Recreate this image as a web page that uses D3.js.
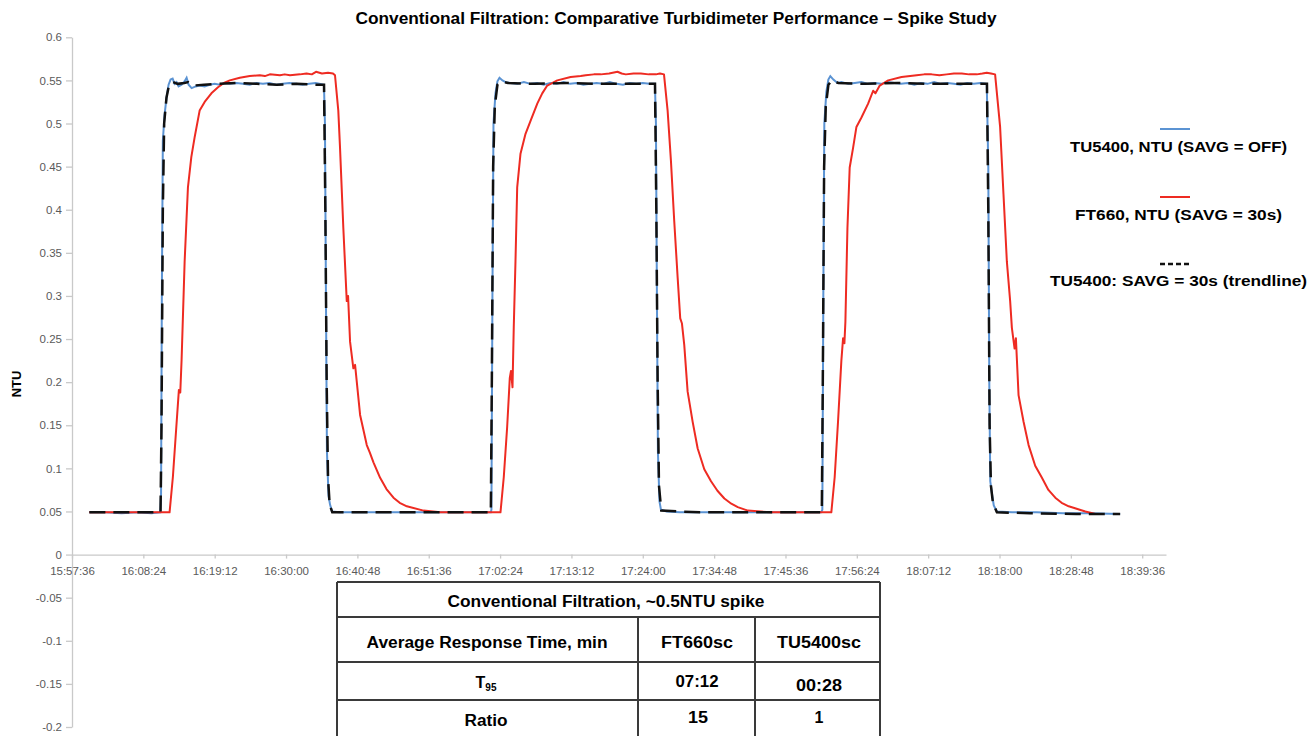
<!DOCTYPE html>
<html><head><meta charset="utf-8">
<script src="https://cdn.jsdelivr.net/npm/d3@7"></script>
<style>body{margin:0;background:#fff;} svg{display:block;font-family:"Liberation Sans",Arial,sans-serif;}</style>
</head><body><svg id="c" width="1316" height="736"></svg>
<script>
// ---------- DATA ----------
const startTime = "15:57:36";
const axisEndTime = "18:43:12";
const xTickLabels = ["15:57:36","16:08:24","16:19:12","16:30:00","16:40:48","16:51:36","17:02:24","17:13:12",
  "17:24:00","17:34:48","17:45:36","17:56:24","18:07:12","18:18:00","18:28:48","18:39:36"];
const yTickValues = [-0.2,-0.15,-0.1,-0.05,0,0.05,0.1,0.15,0.2,0.25,0.3,0.35,0.4,0.45,0.5,0.55,0.6];
const yTickLabels = ["-0.2","-0.15","-0.1","-0.05","0","0.05","0.1","0.15","0.2","0.25","0.3","0.35","0.4","0.45","0.5","0.55","0.6"];
const seriesNames = ["TU5400, NTU (SAVG = OFF)","FT660, NTU (SAVG = 30s)","TU5400: SAVG = 30s (trendline)"];

// [minutes after 15:57:36, NTU]
const tu5400Raw = [
 [2.63,0.049],[5.0,0.049],[7.5,0.048],[10.0,0.049],[12.0,0.048],[13.37,0.049],[13.48,0.07],[13.60,0.30],[13.75,0.48],
 [14.01,0.51],[14.31,0.53],[14.62,0.545],[14.92,0.551],[15.23,0.552],[15.53,0.546],[15.83,0.548],[16.13,0.543],
 [16.59,0.545],[17.05,0.549],[17.35,0.553],[17.65,0.545],[18.11,0.541],[18.72,0.543],[19.32,0.544],[20.08,0.543],
 [20.84,0.545],[21.60,0.546],[22.36,0.545],[23.12,0.547],[23.88,0.546],[24.9,0.547],[25.9,0.546],[26.9,0.545],
 [27.9,0.547],[28.9,0.546],[29.9,0.547],[30.9,0.545],[31.9,0.546],[32.9,0.547],[33.9,0.546],[34.9,0.545],[35.9,0.546],
 [36.9,0.547],[37.6,0.546],[38.14,0.545],[38.29,0.50],[38.44,0.30],[38.59,0.12],[38.83,0.068],[39.06,0.058],
 [39.36,0.050],[40.5,0.049],[43,0.049],[46,0.049],[50,0.049],[54,0.049],[58,0.049],[61,0.049],[63.4,0.049],
 [63.49,0.052],[63.64,0.30],[63.80,0.50],[64.10,0.535],[64.40,0.549],[64.71,0.553],[65.16,0.550],[65.62,0.548],
 [66.37,0.547],[67.4,0.546],[68.4,0.548],[69.4,0.546],[70.4,0.547],[71.4,0.545],[72.4,0.547],[73.4,0.546],[74.4,0.548],
 [75.4,0.546],[76.4,0.547],[77.4,0.545],[78.4,0.546],[79.4,0.547],[80.4,0.546],[81.4,0.548],[82.4,0.546],[83.4,0.545],
 [84.4,0.547],[85.4,0.546],[86.4,0.547],[87.4,0.546],[88.24,0.546],[88.39,0.50],[88.54,0.30],[88.69,0.12],[88.92,0.062],
 [89.15,0.052],[90.0,0.050],[92,0.049],[96,0.049],[100,0.049],[104,0.049],[108,0.049],[112,0.049],[113.4,0.049],
 [113.58,0.052],[113.73,0.30],[113.88,0.50],[114.19,0.537],[114.49,0.551],[114.79,0.555],[115.25,0.551],[115.86,0.547],
 [116.46,0.548],[117.5,0.546],[118.5,0.547],[119.5,0.548],[120.5,0.546],[121.5,0.547],[122.5,0.546],[123.5,0.548],
 [124.5,0.547],[125.5,0.546],[126.5,0.547],[127.5,0.545],[128.5,0.547],[129.5,0.546],[130.5,0.548],[131.5,0.546],
 [132.5,0.547],[133.5,0.546],[134.5,0.545],[135.5,0.547],[136.5,0.546],[137.5,0.547],[138.47,0.546],[138.70,0.45],
 [138.85,0.20],[139.00,0.085],[139.23,0.072],[139.53,0.057],[139.99,0.050],[142.3,0.049],[146,0.049],[150,0.048],
 [154,0.048],[158.66,0.047]
];
const ft660 = [
 [2.63,0.049],[6,0.049],[10,0.049],[13.5,0.049],[14.77,0.049],[15.27,0.09],[15.79,0.148],[16.18,0.191],[16.39,0.188],
 [16.59,0.226],[17.05,0.34],[17.55,0.426],[18.06,0.461],[18.56,0.484],[19.32,0.515],[20.08,0.525],[21.10,0.535],
 [22.10,0.542],[23.0,0.547],[23.88,0.550],[25.4,0.553],[26.91,0.555],[28.43,0.556],[29.2,0.555],[29.95,0.557],
 [31.47,0.556],[32.2,0.557],[32.99,0.556],[34.50,0.557],[35.5,0.558],[36.3,0.557],[36.93,0.560],[37.84,0.558],
 [38.75,0.559],[39.51,0.558],[39.81,0.556],[40.31,0.515],[40.57,0.472],[41.07,0.379],[41.59,0.294],[41.79,0.30],
 [42.09,0.247],[42.59,0.216],[42.85,0.22],[43.61,0.162],[44.62,0.127],[45.1,0.118],[45.63,0.107],[46.64,0.089],
 [47.6,0.076],[48.66,0.066],[49.6,0.060],[50.69,0.056],[53.21,0.051],[55.75,0.049],[59,0.049],[62,0.049],[64.86,0.049],
 [65.36,0.09],[65.87,0.148],[66.27,0.205],[66.45,0.213],[66.68,0.194],[66.87,0.264],[67.13,0.34],[67.39,0.426],
 [67.89,0.465],[68.65,0.488],[69.41,0.503],[70.43,0.523],[71.18,0.535],[71.94,0.544],[73.46,0.550],[75.48,0.554],
 [77.0,0.555],[77.76,0.556],[79.0,0.557],[80.04,0.557],[81.3,0.558],[82.57,0.560],[83.2,0.558],[83.83,0.557],
 [85.0,0.558],[86.11,0.558],[87.3,0.557],[88.39,0.557],[89.0,0.558],[89.61,0.557],[90.16,0.515],[90.66,0.457],
 [91.16,0.387],[91.68,0.321],[92.07,0.274],[92.33,0.268],[92.68,0.243],[93.19,0.189],[93.95,0.154],[94.71,0.123],
 [95.71,0.099],[96.73,0.085],[97.7,0.074],[98.75,0.065],[99.8,0.059],[100.78,0.055],[102.30,0.051],[105.84,0.049],
 [110.39,0.049],[114.94,0.049],
 [115.45,0.09],[115.96,0.155],[116.46,0.225],[116.72,0.251],[116.92,0.245],[117.07,0.27],[117.38,0.379],[117.72,0.449],
 [118.24,0.472],[118.74,0.496],[119.50,0.507],[120.51,0.523],[121.27,0.538],[121.62,0.535],[122.27,0.544],
 [123.55,0.550],[125.57,0.554],[127.85,0.556],[129.0,0.557],[130.12,0.557],[131.3,0.556],[132.40,0.557],[133.5,0.558],
 [134.68,0.558],[135.8,0.557],[136.96,0.557],[137.8,0.558],[138.47,0.559],[139.1,0.558],[139.73,0.557],[140.49,0.496],
 [141.00,0.418],[141.51,0.34],[142.01,0.294],[142.27,0.263],[142.68,0.239],[142.88,0.251],[143.28,0.185],[144.04,0.154],
 [144.80,0.127],[145.80,0.103],[146.82,0.089],[147.8,0.075],[148.84,0.066],[149.8,0.060],[150.87,0.056],[153.39,0.050],
 [154.91,0.047]
];
const tu5400Trend = [
 [2.63,0.049],[13.40,0.049],[13.55,0.15],[13.75,0.40],[13.95,0.50],[14.3,0.53],[14.7,0.545],[15.3,0.548],[16.0,0.546],
 [17.0,0.547],[17.6,0.548],[18.3,0.544],[20,0.545],[22,0.546],[25,0.547],[28,0.546],[31,0.545],[34,0.546],[37,0.545],
 [38.15,0.545],[38.35,0.40],[38.55,0.20],[38.75,0.09],[39.0,0.058],[39.4,0.049],[45,0.049],[55,0.049],[63.4,0.049],
 [63.55,0.2],[63.75,0.45],[64.0,0.52],[64.4,0.545],[65,0.549],[66,0.547],[70,0.546],[75,0.547],[80,0.546],[85,0.546],
 [88.25,0.546],[88.45,0.40],[88.65,0.20],[88.85,0.08],[89.2,0.051],[95,0.049],[105,0.049],[113.5,0.049],
 [113.65,0.2],[113.85,0.45],[114.1,0.52],[114.5,0.545],[115,0.550],[116,0.547],[120,0.546],[125,0.547],[130,0.546],
 [135,0.546],[138.5,0.546],[138.7,0.40],[138.9,0.15],[139.1,0.08],[139.4,0.06],[140,0.049],[145,0.048],[152,0.047],
 [158.66,0.047]
];
const tableTitle = "Conventional Filtration, ~0.5NTU spike";
const tableHeader = ["Average Response Time, min","FT660sc","TU5400sc"];
const t95Row = ["07:12","00:28"];
const ratioRow = ["15","1"];

// ---------- CHART ----------
const svg = d3.select("#c");
const toMin = s => { const p = s.split(":").map(Number), q = startTime.split(":").map(Number);
  return ((p[0]*3600+p[1]*60+p[2]) - (q[0]*3600+q[1]*60+q[2]))/60; };

const x = d3.scaleLinear().domain([0, toMin(axisEndTime)]).range([72, 1166]);
const y = d3.scaleLinear().domain([-0.2, 0.6]).range([727, 37.3]);
const axisColor = "#c9c9c9", labelColor = "#5a5a5a";

// Y axis
const gy = svg.append("g").attr("transform","translate(72,0)")
  .call(d3.axisLeft(y).tickValues(yTickValues).tickSize(6).tickSizeOuter(0).tickPadding(4)
    .tickFormat((d,i)=>yTickLabels[i]));
gy.select(".domain").attr("stroke",axisColor).attr("stroke-width",1.3);
gy.selectAll(".tick line").attr("stroke",axisColor).attr("stroke-width",1.3);
gy.selectAll(".tick text").attr("fill",labelColor).style("font-size","11.5px").style("font-family","'Liberation Sans',Arial,sans-serif");

// X axis at y=0
const gx = svg.append("g").attr("transform",`translate(0,${y(0)})`)
  .call(d3.axisBottom(x).tickValues(xTickLabels.map(toMin)).tickSize(4).tickSizeOuter(0).tickPadding(8)
    .tickFormat((d,i)=>xTickLabels[i]));
gx.select(".domain").attr("stroke",axisColor).attr("stroke-width",1.3);
gx.selectAll(".tick line").attr("stroke",axisColor).attr("stroke-width",1.3);
gx.selectAll(".tick text").attr("fill",labelColor).style("font-size","11.5px").style("font-family","'Liberation Sans',Arial,sans-serif");

// Lines
const line = d3.line().x(d=>x(d[0])).y(d=>y(d[1]));
svg.append("path").datum(tu5400Raw).attr("d",line).attr("fill","none").attr("stroke","#5b93d3").attr("stroke-width",2);
svg.append("path").datum(ft660).attr("d",line).attr("fill","none").attr("stroke","#ee2b22").attr("stroke-width",2).attr("stroke-linejoin","round");
svg.append("path").datum(tu5400Trend).attr("d",line).attr("fill","none").attr("stroke","#111").attr("stroke-width",2.5).attr("stroke-dasharray","16,8");

// Title
svg.append("text").attr("x",676).attr("y",24).attr("text-anchor","middle")
  .attr("font-weight","bold").attr("font-size",16).attr("textLength",641).attr("lengthAdjust","spacingAndGlyphs")
  .text("Conventional Filtration: Comparative Turbidimeter Performance \u2013 Spike Study");

// Y label
svg.append("text").attr("transform","translate(21,384) rotate(-90)").attr("text-anchor","middle")
  .attr("font-weight","bold").attr("font-size",13).text("NTU");

// Legend
const legend = [
  {y:129, ty:152, color:"#5b93d3", dash:null, len:217, w:2},
  {y:197, ty:220, color:"#ee2b22", dash:null, len:207, w:2},
  {y:264, ty:286, color:"#111", dash:"5,3", len:257, w:2.5}
];
legend.forEach((l,i)=>{
  svg.append("line").attr("x1",1160).attr("x2",1190).attr("y1",l.y).attr("y2",l.y)
    .attr("stroke",l.color).attr("stroke-width",l.w).attr("stroke-dasharray",l.dash);
  svg.append("text").attr("x",1178.5).attr("y",l.ty).attr("text-anchor","middle").attr("font-weight","bold")
    .attr("font-size",14).attr("textLength",l.len).attr("lengthAdjust","spacingAndGlyphs").text(seriesNames[i]);
});

// Table
const tb = svg.append("g");
const tl = 337, tr = 880, c1 = 638, c2 = 755;
const rowsY = [582, 617, 662, 700, 742];
rowsY.forEach(yy => tb.append("line").attr("x1",tl).attr("x2",tr).attr("y1",yy).attr("y2",yy).attr("stroke","#3a3a3a").attr("stroke-width",2));
[tl,tr].forEach(xx => tb.append("line").attr("x1",xx).attr("x2",xx).attr("y1",582).attr("y2",742).attr("stroke","#3a3a3a").attr("stroke-width",2));
[c1,c2].forEach(xx => tb.append("line").attr("x1",xx).attr("x2",xx).attr("y1",617).attr("y2",742).attr("stroke","#3a3a3a").attr("stroke-width",2));
function cell(txt, cx, by, len){
  const t = tb.append("text").attr("x",cx).attr("y",by).attr("text-anchor","middle").attr("font-weight","bold").attr("font-size",16).text(txt);
  if(len) t.attr("textLength",len).attr("lengthAdjust","spacingAndGlyphs");
  return t;
}
cell(tableTitle, 606, 607, 317);
cell(tableHeader[0], 487, 648, 241);
cell(tableHeader[1], 697, 648, 72);
cell(tableHeader[2], 819, 648, 84);
const t95 = tb.append("text").attr("x",486).attr("y",688).attr("text-anchor","middle").attr("font-weight","bold").attr("font-size",16);
t95.append("tspan").text("T");
t95.append("tspan").attr("dy",3).attr("font-size",10).text("95");
cell(t95Row[0], 697, 687, 43);
cell(t95Row[1], 819, 690.5, 46);
cell("Ratio", 486, 726, 43);
cell(ratioRow[0], 698, 723, 20);
cell(ratioRow[1], 819, 723);
</script></body></html>
